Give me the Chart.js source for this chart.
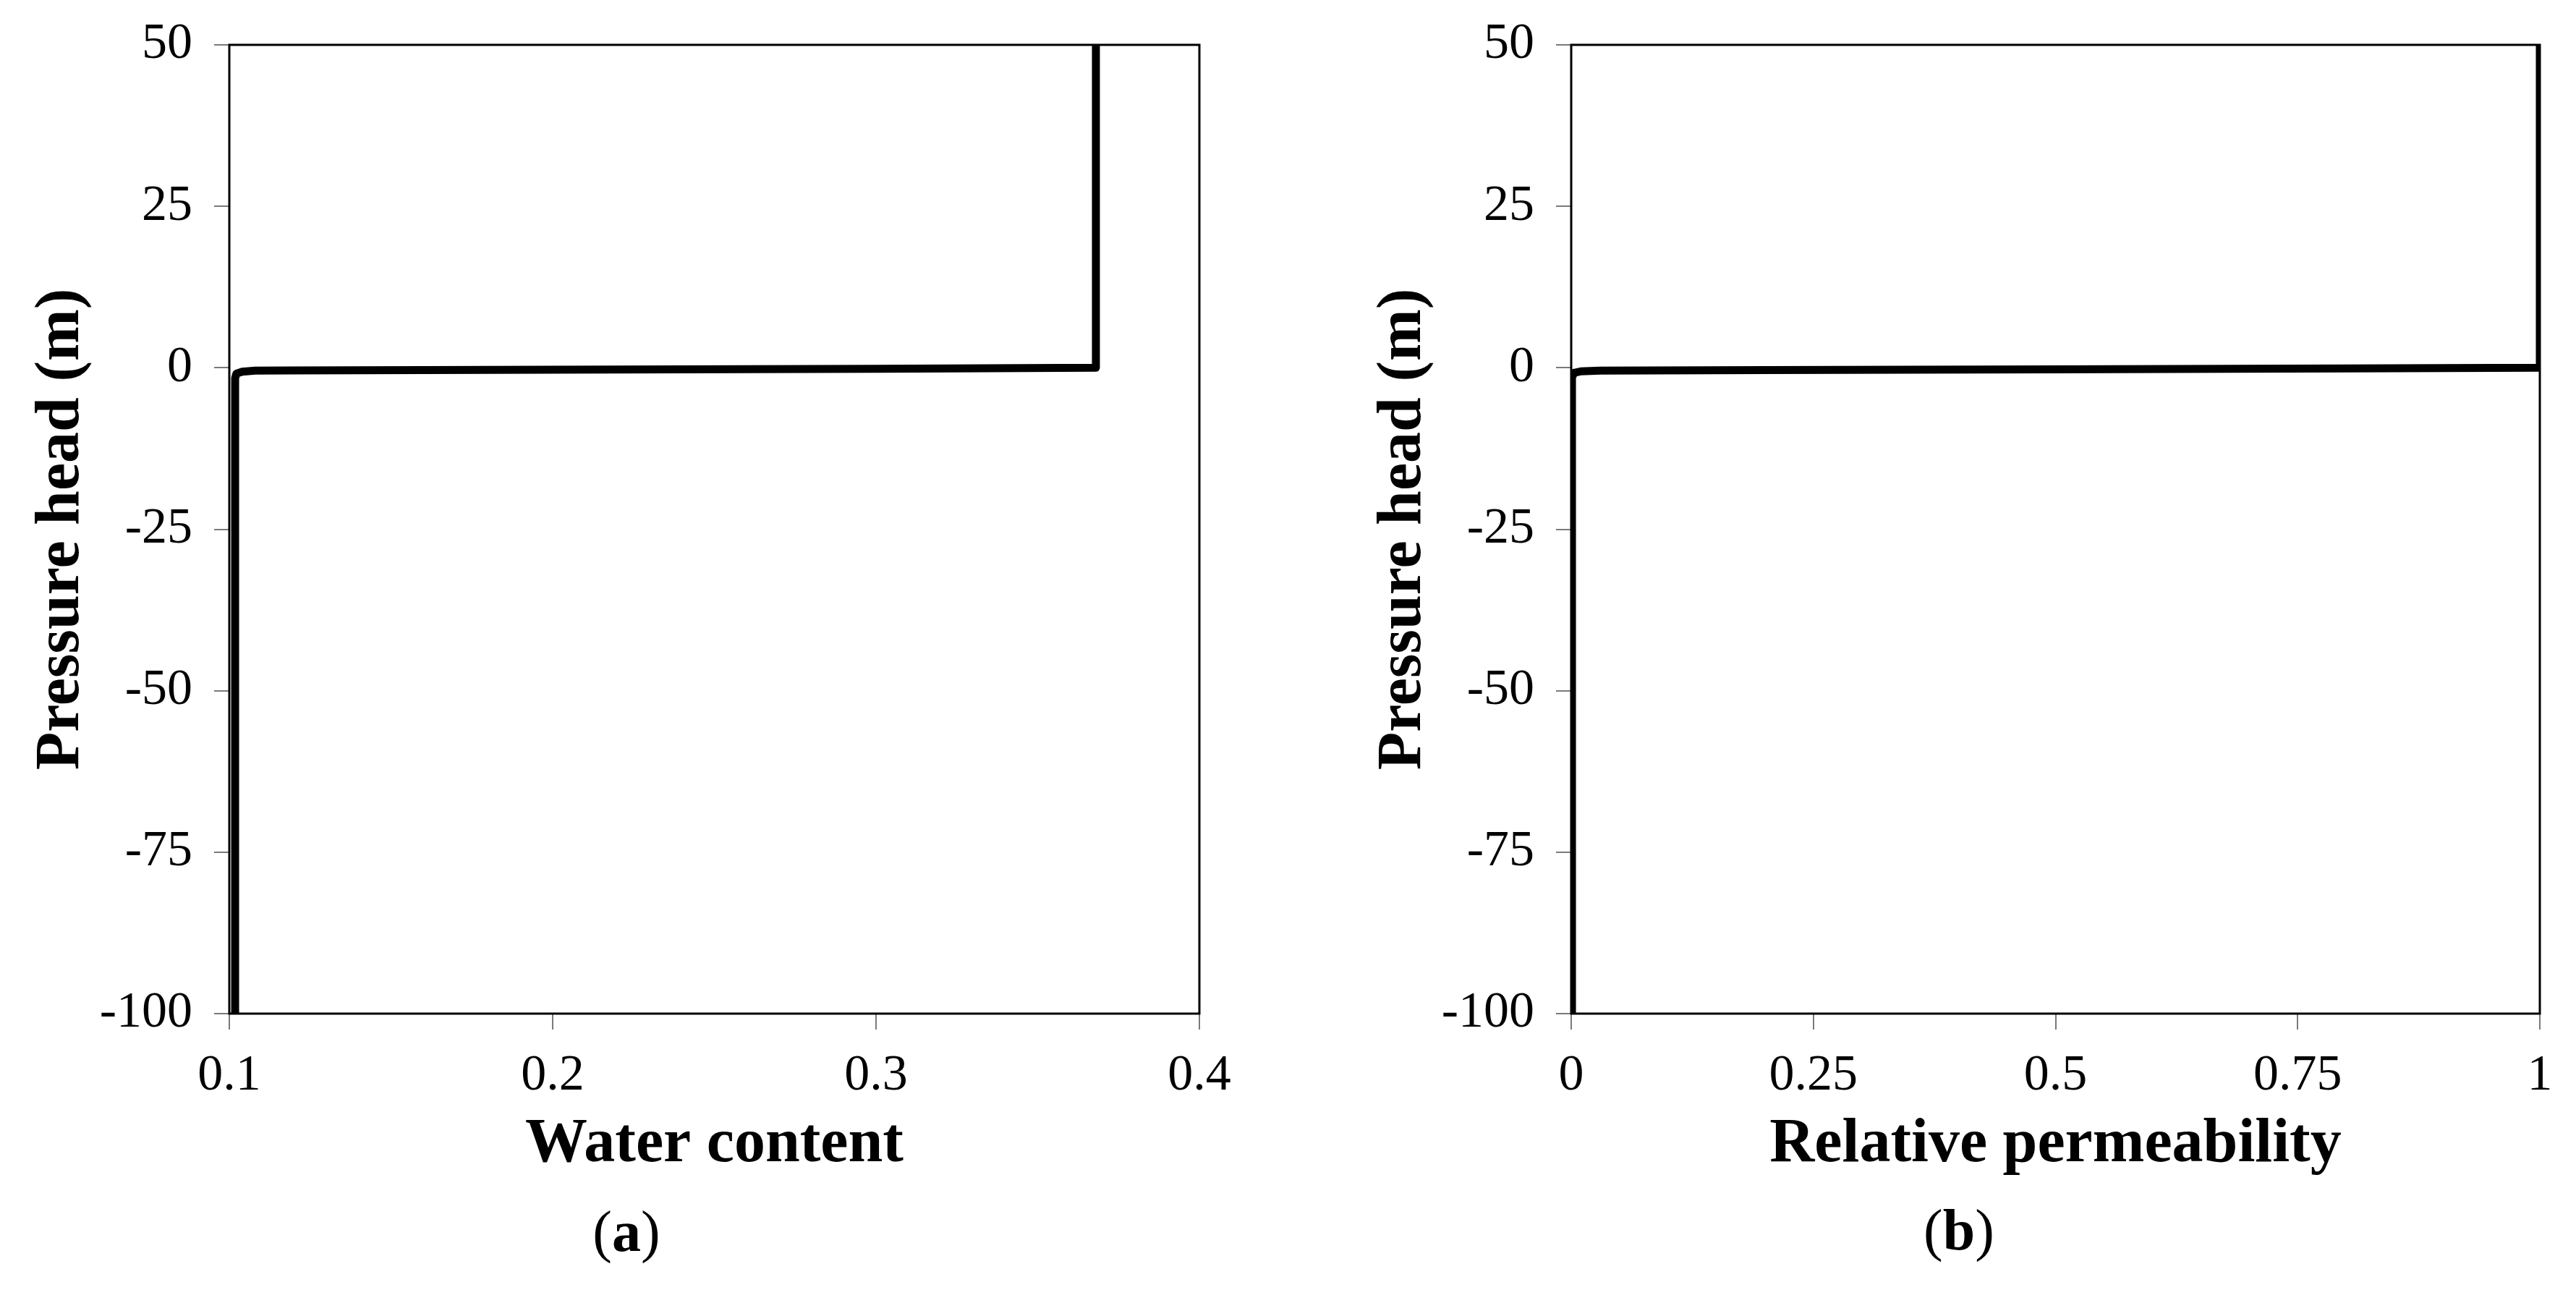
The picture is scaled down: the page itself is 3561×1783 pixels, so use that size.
<!DOCTYPE html>
<html>
<head>
<meta charset="utf-8">
<script src="https://cdn.jsdelivr.net/npm/chart.js@4.4.1/dist/chart.umd.min.js"></script>
<style>
  body { margin: 0; background: #fff; }
  #wrap { position: relative; width: 3561px; height: 1783px; overflow: hidden; }
  canvas { position: absolute; top: 0; }
  .cap { position: absolute; font-family: "Liberation Serif", serif; font-size: 80px; line-height: 1; color: #000; transform: translate(-50%, -50%); white-space: nowrap; }
</style>
</head>
<body>
<div id="wrap">
  <canvas id="chartA" width="1855" height="1783" style="left:0"></canvas>
  <canvas id="chartB" width="1706" height="1783" style="left:1855px"></canvas>
  <div class="cap" style="left:866px; top:1702px">(<b>a</b>)</div>
  <div class="cap" style="left:2708px; top:1700px">(<b>b</b>)</div>
</div>
<script>
// (a) water content vs pressure head
var waterContent = [0.1018, 0.1018, 0.1022, 0.104, 0.108, 0.12, 0.2, 0.3, 0.368, 0.368];
var headA        = [-100,   -1.6,   -0.9,   -0.6,  -0.45, -0.4, -0.3, -0.15, 0, 50];

// (b) relative permeability vs pressure head
var relPerm = [0.0008, 0.0008, 0.003, 0.01, 0.03, 0.2,  0.5,   0.8,  1.0, 1.0];
var headB   = [-100,   -1.5,   -0.8,  -0.55, -0.45, -0.35, -0.25, -0.1, 0,   50];

var headTicks = [-100, -75, -50, -25, 0, 25, 50];
var xTicksA = [0.1, 0.2, 0.3, 0.4];
var xTicksB = [0, 0.25, 0.5, 0.75, 1];

var FONT = '"Liberation Serif", "Times New Roman", serif';

// box around the plot area, drawn under the curve
var framePlugin = {
    id: 'frame',
    beforeDatasetsDraw: function(chart) {
        var a = chart.chartArea;
        var ctx = chart.ctx;
        ctx.save();
        ctx.strokeStyle = '#000';
        ctx.lineWidth = 3;
        ctx.strokeRect(a.left, a.top, a.right - a.left, a.bottom - a.top);
        ctx.restore();
    }
};

function makePoints(xs, ys) {
    return xs.map(function(x, i) { return {x: x, y: ys[i]}; });
}

function createChart(elementId, xs, ys, xTicks, xMin, xMax, xTitle, padRight) {
    var ctx = document.getElementById(elementId).getContext('2d');
    return new Chart(ctx, {
        type: 'scatter',
        data: {
            datasets: [{
                data: makePoints(xs, ys),
                showLine: true,
                borderColor: '#000',
                borderWidth: 11,
                borderJoinStyle: 'round',
                borderCapStyle: 'round',
                pointRadius: 0,
                tension: 0
            }]
        },
        options: {
            responsive: false,
            animation: false,
            devicePixelRatio: 1,
            layout: { padding: { top: 62, right: padRight, left: 0, bottom: 0 } },
            plugins: { legend: { display: false }, tooltip: { enabled: false } },
            scales: {
                x: {
                    type: 'linear',
                    min: xMin,
                    max: xMax,
                    afterBuildTicks: function(scale) {
                        scale.ticks = xTicks.map(function(v) { return {value: v}; });
                    },
                    afterFit: function(scale) {
                        scale.height = 382;
                        scale.paddingLeft = 0;
                        scale.paddingRight = 0;
                    },
                    border: { display: false },
                    grid: { drawOnChartArea: false, drawTicks: true, tickLength: 22, color: '#7a7a7a', lineWidth: 2 },
                    ticks: {
                        padding: 23,
                        color: '#000',
                        font: { family: FONT, size: 70 },
                        maxRotation: 0,
                        autoSkip: false,
                        callback: function(v) { return String(v); }
                    },
                    title: {
                        display: true,
                        text: xTitle,
                        color: '#000',
                        font: { family: FONT, size: 86, weight: 'bold' },
                        padding: { top: 0, bottom: 149 }
                    }
                },
                y: {
                    type: 'linear',
                    min: -100,
                    max: 50,
                    afterBuildTicks: function(scale) {
                        scale.ticks = headTicks.map(function(v) { return {value: v}; });
                    },
                    afterFit: function(scale) {
                        scale.width = 317;
                        scale.paddingTop = 0;
                        scale.paddingBottom = 0;
                    },
                    border: { display: false },
                    grid: { drawOnChartArea: false, drawTicks: true, tickLength: 21, color: '#7a7a7a', lineWidth: 2 },
                    ticks: {
                        padding: 30,
                        color: '#000',
                        font: { family: FONT, size: 70 },
                        autoSkip: false,
                        callback: function(v) { return String(v); }
                    },
                    title: {
                        display: true,
                        text: 'Pressure head (m)',
                        color: '#000',
                        font: { family: FONT, size: 86, weight: 'bold' },
                        padding: { top: 34, bottom: 0 }
                    }
                }
            }
        },
        plugins: [framePlugin]
    });
}

createChart('chartA', waterContent, headA, xTicksA, 0.1, 0.4, 'Water content', 197);
createChart('chartB', relPerm, headB, xTicksB, 0, 1, 'Relative permeability', 50);
</script>
</body>
</html>
